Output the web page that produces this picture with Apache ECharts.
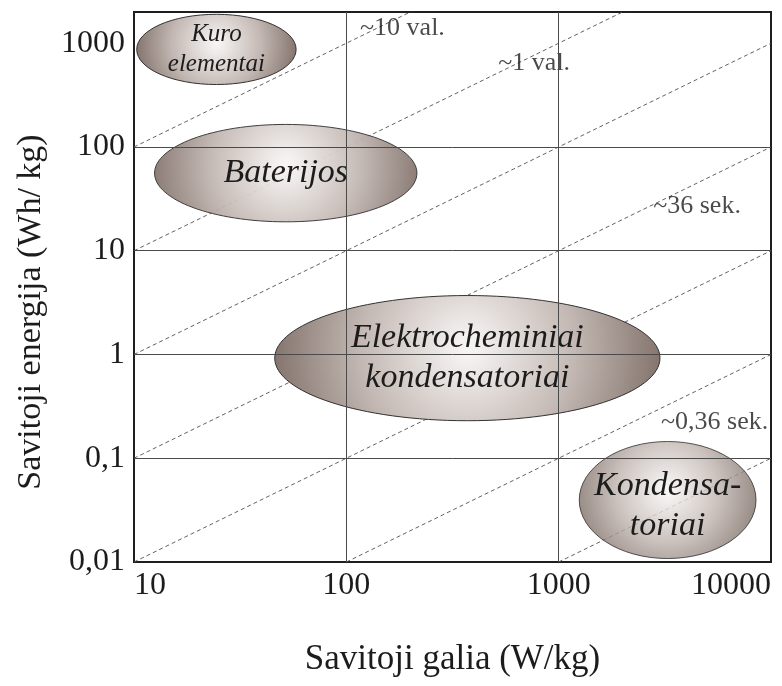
<!DOCTYPE html>
<html>
<head>
<meta charset="utf-8">
<script src="https://cdn.jsdelivr.net/npm/echarts@6/dist/echarts.min.js"></script>
<style>
html,body{margin:0;padding:0;background:#fff;}
#chart{width:782px;height:686px;}
</style>
</head>
<body>
<div id="chart"></div>
<script>
// ---- data ----
const xTickValues = [10, 100, 1000, 10000];
const xTickLabels = ['10', '100', '1000', '10000'];
const yTickValues = [0.01, 0.1, 1, 10, 100, 1000];
const yTickLabels = ['0,01', '0,1', '1', '10', '100', '1000'];
const xGridValues = [100, 1000];
const yGridValues = [0.1, 1, 10, 100];

const techNames = ['Kuro\nelementai', 'Baterijos', 'Elektrocheminiai\nkondensatoriai', 'Kondensa-\ntoriai'];
const techPowerMin = [10.3, 12.5, 46, 1250];
const techPowerMax = [58, 215, 3000, 8500];
const techEnergyMin = [400, 19, 0.23, 0.0108];
const techEnergyMax = [1900, 165, 3.7, 0.145];

const durationNames = ['10 val.', '1 val.', '6 min.', '36 sek.', '3,6 sek.', '0,36 sek.', '0,036 sek.'];
const durationStartP = [10, 10, 10, 10, 10, 100, 1000];
const durationStartE = [100, 10, 1, 0.1, 0.01, 0.01, 0.01];
const durationEndP = [1000, 10000, 10000, 10000, 10000, 10000, 10000];
const durationEndE = [10000, 10000, 1000, 100, 10, 1, 0.1];

const noteTexts = ['~10 val.', '~1 val.', '~36 sek.', '~0,36 sek.'];
const noteP = [116, 1132, 2786, 9700];
const noteE = [1403, 646, 27, 0.223];

// ---- styles ----
const noteAlign = ['left', 'right', 'left', 'right'];
const techFontSize = [25, 34, 34, 34];
const techLineHeight = [30, 40, 40, 40];
const techTextShift = [0, 0, 0, 6];
const techOpacity = [1, 0.94, 1, 0.82];
const FONT = '"Liberation Serif", "Times New Roman", serif';

function fmt(values, labels) {
  return function (v) {
    for (let i = 0; i < values.length; i++) {
      if (Math.abs(Math.log10(v) - Math.log10(values[i])) < 1e-6) return labels[i];
    }
    return '';
  };
}

const series = [];

// grid lines (drawn beneath everything else)
series.push({
  type: 'line',
  data: [],
  silent: true,
  z: 1,
  markLine: {
    silent: true,
    symbol: ['none', 'none'],
    label: { show: false },
    animation: false,
    lineStyle: { type: 'solid', color: '#4a4a4a', width: 1 },
    data: xGridValues.map(v => ({ xAxis: v })).concat(yGridValues.map(v => ({ yAxis: v })))
  }
});

// constant-duration dashed lines
durationNames.forEach((n, i) => {
  series.push({
    type: 'line',
    name: n,
    z: 2,
    silent: true,
    symbol: 'none',
    showSymbol: false,
    clip: true,
    lineStyle: { color: '#505050', width: 0.9, type: [4, 3] },
    data: [[durationStartP[i], durationStartE[i]], [durationEndP[i], durationEndE[i]]]
  });
});

// technology ellipses
series.push({
  type: 'custom',
  z: 3,
  silent: true,
  clip: false,
  data: techNames.map((n, i) => ({ name: n, value: [techPowerMin[i], techPowerMax[i], techEnergyMin[i], techEnergyMax[i]] })),
  encode: { x: [0, 1], y: [2, 3] },
  renderItem: function (params, api) {
    const i = params.dataIndex;
    const p1 = api.coord([api.value(0), api.value(3)]);
    const p2 = api.coord([api.value(1), api.value(2)]);
    const cx = (p1[0] + p2[0]) / 2, cy = (p1[1] + p2[1]) / 2;
    const rx = Math.abs(p2[0] - p1[0]) / 2, ry = Math.abs(p2[1] - p1[1]) / 2;
    const r = rx / Math.min(2 * rx, 2 * ry);
    return {
      type: 'group',
      children: [
        {
          type: 'ellipse',
          shape: { cx: cx, cy: cy, rx: rx, ry: ry },
          style: {
            fill: {
              type: 'radial', x: 0.5, y: 0.42, r: r,
              colorStops: [
                { offset: 0, color: '#f8f6f5' },
                { offset: 0.12, color: '#eeeae8' },
                { offset: 0.55, color: '#c3b8b3' },
                { offset: 1, color: '#84746d' }
              ]
            },
            stroke: '#333',
            lineWidth: 1,
            opacity: techOpacity[i]
          }
        },
        {
          type: 'text',
          x: cx,
          y: cy + techTextShift[i],
          style: {
            text: techNames[i],
            fontFamily: FONT,
            fontStyle: 'italic',
            fontSize: techFontSize[i],
            lineHeight: techLineHeight[i],
            align: 'center',
            verticalAlign: 'middle',
            fill: '#1c1c1c'
          }
        }
      ]
    };
  }
});

// duration annotations
series.push({
  type: 'scatter',
  z: 4,
  silent: true,
  symbolSize: 0,
  data: noteTexts.map((t, i) => ({
    name: t,
    value: [noteP[i], noteE[i]],
    label: { align: noteAlign[i] }
  })),
  label: {
    show: true,
    position: 'inside',
    formatter: '{b}',
    fontFamily: FONT,
    fontSize: 26,
    color: '#1c1c1c',
    verticalAlign: 'middle'
  }
});

const chart = echarts.init(document.getElementById('chart'), null, { renderer: 'canvas' });
chart.setOption({
  animation: false,
  backgroundColor: '#fff',
  grid: {
    left: 134, right: 11, top: 12, bottom: 124,
    show: true, borderColor: '#1e1e1e', borderWidth: 2, backgroundColor: 'transparent'
  },
  xAxis: {
    type: 'log', logBase: 10, min: 10, max: 10000,
    name: 'Savitoji galia (W/kg)', nameLocation: 'middle', nameGap: 80,
    nameTextStyle: { fontFamily: FONT, fontSize: 35, color: '#1c1c1c' },
    axisLine: { show: false }, axisTick: { show: false }, splitLine: { show: false },
    axisLabel: {
      margin: 8, fontFamily: FONT, fontSize: 32, color: '#1c1c1c',
      alignMinLabel: 'left', alignMaxLabel: 'right',
      formatter: fmt(xTickValues, xTickLabels)
    }
  },
  yAxis: {
    type: 'log', logBase: 10, min: 0.01, max: 2000,
    name: 'Savitoji energija (Wh/ kg)', nameLocation: 'middle', nameGap: 86,
    nameTextStyle: { fontFamily: FONT, fontSize: 34, color: '#1c1c1c', padding: [0, 50, 0, 0] },
    axisLine: { show: false }, axisTick: { show: false }, splitLine: { show: false },
    axisLabel: {
      margin: 9, fontFamily: FONT, fontSize: 32, color: '#1c1c1c',
      showMaxLabel: false,
      formatter: fmt(yTickValues, yTickLabels)
    }
  },
  series: series
});
</script>
</body>
</html>
